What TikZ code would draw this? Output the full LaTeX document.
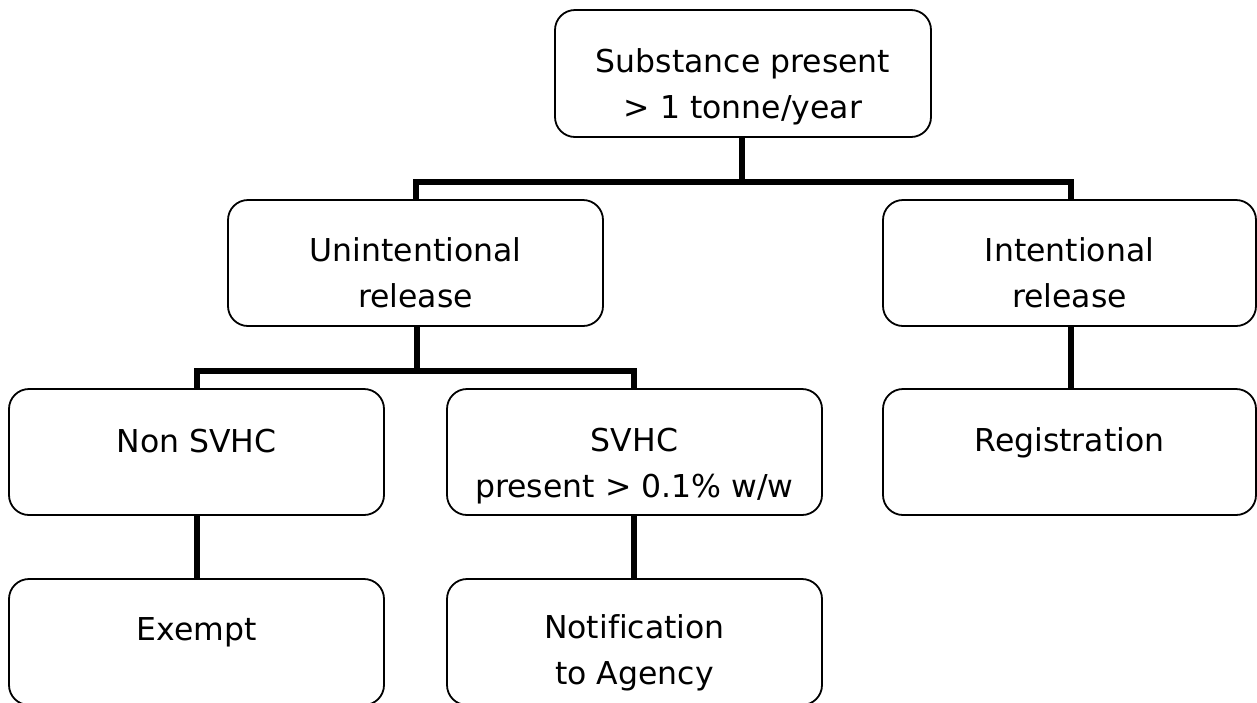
\documentclass[tikz,border=0pt]{standalone}
\usepackage{fontspec}
\setmainfont[Ligatures=NoCommon]{DejaVu Sans}
\begin{document}
\begin{tikzpicture}[x=1pt,y=-1pt,
  box/.style={draw=black, line width=1.8pt, rounded corners=20pt, minimum width=375pt, minimum height=126pt, inner sep=0pt, fill=white},
  txt/.style={anchor=base, align=center, inner sep=0pt, font=\fontsize{31.5}{46}\selectfont},
  conn/.style={draw=black, line width=6.5pt, line join=miter}]
\useasboundingbox (0,0) rectangle (1257,702);
\clip (0,0) rectangle (1257,702);
% boxes
\node[box, minimum width=376pt, minimum height=127pt] (top) at (743,73.5) {};
\node[box] (unint) at (415.5,263) {};
\node[box, minimum width=373pt] (inten) at (1069.5,263) {};
\node[box] (nonsvhc) at (196.5,452) {};
\node[box] (svhc) at (634.5,452) {};
\node[box, minimum width=373pt] (reg) at (1069.5,452) {};
\node[box] (exempt) at (196.5,642) {};
\node[box] (notif) at (634.5,642) {};
% texts (base = last line's baseline)
\node[txt] (ttop) at (743,118) {Substance present\\> 1 tonne/year};
\node[txt] (tunint) at (415.5,307) {Unintentional\\release};
\node[txt] (tinten) at (1069.5,307) {Intentional\\release};
\node[txt] (tnon) at (196.5,452) {Non SVHC};
\node[txt] (tsvhc) at (634.5,497) {SVHC\\present > 0.1\% w/w};
\node[txt] (treg) at (1069.5,451) {Registration};
\node[txt] (texe) at (196.5,640) {Exempt};
\node[txt] (tnot) at (634.5,684) {Notification\\to Agency};
% connectors
\coordinate (j1) at (742,182);
\coordinate (j2) at (417,371);
\draw[conn] (top.south -| j1) -- (j1);
\draw[conn] (unint.north -| 416,0) |- (j1) -| (inten.north -| 1071,0);
\draw[conn] (unint.south -| j2) -- (j2);
\draw[conn] (nonsvhc.north -| 197,0) |- (j2) -| (svhc.north -| 634,0);
\draw[conn] (inten.south -| 1071,0) -- (reg.north -| 1071,0);
\draw[conn] (nonsvhc.south -| 197,0) -- (exempt.north -| 197,0);
\draw[conn] (svhc.south -| 634,0) -- (notif.north -| 634,0);
\end{tikzpicture}
\end{document}
